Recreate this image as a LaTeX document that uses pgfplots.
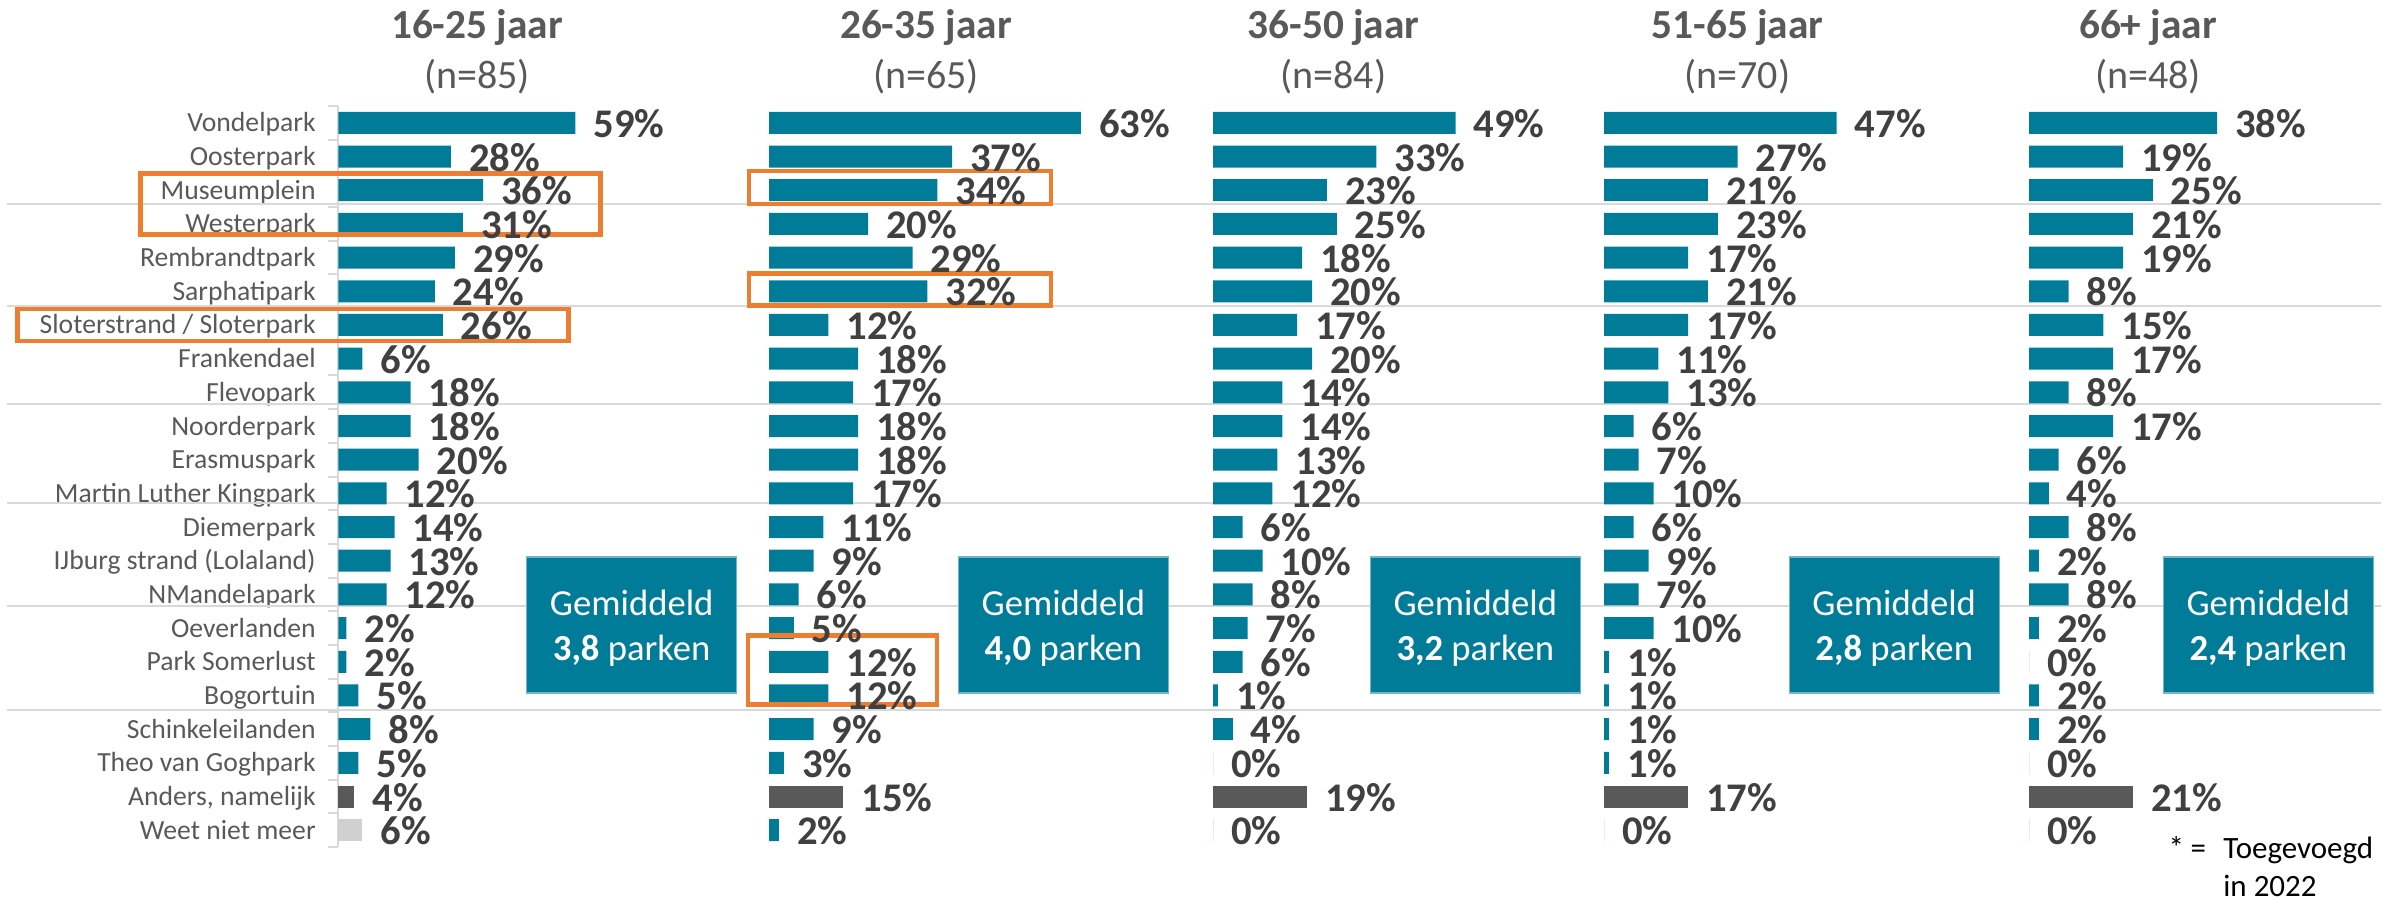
\documentclass[border=0pt]{standalone}
\usepackage{fontspec}
\setmainfont{Carlito}
\usepackage{pgfplots}
\pgfplotsset{compat=1.18}
\definecolor{barteal}{HTML}{007C98}
\definecolor{bardark}{HTML}{595959}
\definecolor{barlight}{HTML}{D0D0D0}
\definecolor{titlegray}{HTML}{595959}
\definecolor{pctgray}{HTML}{404040}
\definecolor{labgray}{HTML}{595959}
\definecolor{sepgray}{HTML}{D9D9D9}
\definecolor{boxorange}{HTML}{ED7D31}
\pgfplotsset{
  panel/.style={
    scale only axis, height=222.3pt, y dir=reverse, ymin=0.5, ymax=22.5, xmin=0, xmax=65,
    xbar, bar shift=0pt, bar width=0.653, clip=false, anchor=north west,
    point meta=x,
    nodes near coords={\pgfmathprintnumber[assume math mode=true]{\pgfplotspointmeta}\%},
    nodes near coords align={horizontal},
    every node near coord/.append style={anchor=base west, inner sep=0pt, xshift=5.25pt, yshift=-4.35pt,
      font=\bfseries\fontsize{12.2}{14}\selectfont, text=pctgray},
  },
  panelwide/.style={panel, width=96.525pt, hide axis},
}
\begin{document}
\begin{tikzpicture}
\useasboundingbox (0,0) rectangle ({2400*0.3pt},{-899*0.3pt});
% ---------- Panel 1: 16-25 jaar ----------
\begin{axis}[panel, width=78.39pt, at={({338.3*0.3pt},{-106*0.3pt})},
  axis x line=none, axis y line*=left,
  y axis line style={draw=sepgray, line width=0.6pt},
  ytick={1,...,22}, major tick length=0pt,
  yticklabels={Vondelpark,Oosterpark,Museumplein,Westerpark,Rembrandtpark,Sarphatipark,
    Sloterstrand / Sloterpark,Frankendael,Flevopark,Noorderpark,Erasmuspark,Martin Luther Kingpark,
    Diemerpark,IJburg strand (Lolaland),NMandelapark,Oeverlanden,Park Somerlust,Bogortuin,
    Schinkeleilanden,Theo van Goghpark,{Anders, namelijk},Weet niet meer},
  yticklabel style={anchor=base east, inner sep=0pt, xshift=-6.6pt, yshift=-2.7pt,
    font=\fontsize{8.3}{10}\selectfont, text=labgray},
  extra y ticks={0.5,1.5,...,22.5}, extra y tick labels={},
  extra y tick style={major tick length=3pt, tick align=outside, tick style={draw=sepgray, line width=0.6pt}},
]
\pgfplotsinvokeforeach{3.41,6.44,9.35,12.29,15.35,18.43}{
  \draw[sepgray, line width=0.7pt] (axis cs:-82.4,#1) -- (axis cs:508.1,#1);
}
\addplot[fill=barteal, draw=none] coordinates {(59,1) (28,2) (36,3) (31,4) (29,5) (24,6) (26,7) (6,8) (18,9) (18,10) (20,11) (12,12) (14,13) (13,14) (12,15) (2,16) (2,17) (5,18) (8,19) (5,20)};
\addplot[fill=bardark, draw=none] coordinates {(4,21)};
\addplot[fill=barlight, draw=none] coordinates {(6,22)};
\draw[boxorange, line width=1.4pt] (axis cs:-49.15,2.504) rectangle (axis cs:65.2,4.31);
\draw[boxorange, line width=1.4pt] (axis cs:-79.8,6.527) rectangle (axis cs:57.2,7.477);
\end{axis}
% ---------- Panel 2: 26-35 jaar ----------
\begin{axis}[panelwide, at={({769*0.3pt},{-106*0.3pt})}]
\addplot[fill=barteal, draw=none] coordinates {(63,1) (37,2) (34,3) (20,4) (29,5) (32,6) (12,7) (18,8) (17,9) (18,10) (18,11) (17,12) (11,13) (9,14) (6,15) (5,16) (12,17) (12,18) (9,19) (3,20) (2,22)};
\addplot[fill=bardark, draw=none] coordinates {(15,21)};
\draw[boxorange, line width=1.4pt] (axis cs:-4.04,2.43) rectangle (axis cs:56.97,3.41);
\draw[boxorange, line width=1.4pt] (axis cs:-4.04,5.47) rectangle (axis cs:56.97,6.42);
\draw[boxorange, line width=1.4pt] (axis cs:-4.24,16.22) rectangle (axis cs:33.94,18.27);
\end{axis}
% ---------- Panel 3: 36-50 jaar ----------
\begin{axis}[panelwide, at={({1213*0.3pt},{-106*0.3pt})}]
\addplot[fill=barteal, draw=none] coordinates {(49,1) (33,2) (23,3) (25,4) (18,5) (20,6) (17,7) (20,8) (14,9) (14,10) (13,11) (12,12) (6,13) (10,14) (8,15) (7,16) (6,17) (1,18) (4,19) (0,20) (0,22)};
\addplot[fill=bardark, draw=none] coordinates {(19,21)};
\end{axis}
% ---------- Panel 4: 51-65 jaar ----------
\begin{axis}[panelwide, at={({1604*0.3pt},{-106*0.3pt})}]
\addplot[fill=barteal, draw=none] coordinates {(47,1) (27,2) (21,3) (23,4) (17,5) (21,6) (17,7) (11,8) (13,9) (6,10) (7,11) (10,12) (6,13) (9,14) (7,15) (10,16) (1,17) (1,18) (1,19) (1,20) (0,22)};
\addplot[fill=bardark, draw=none] coordinates {(17,21)};
\end{axis}
% ---------- Panel 5: 66+ jaar ----------
\begin{axis}[panelwide, at={({2029*0.3pt},{-106*0.3pt})}]
\addplot[fill=barteal, draw=none] coordinates {(38,1) (19,2) (25,3) (21,4) (19,5) (8,6) (15,7) (17,8) (8,9) (17,10) (6,11) (4,12) (8,13) (2,14) (8,15) (2,16) (0,17) (2,18) (2,19) (0,20) (0,22)};
\addplot[fill=bardark, draw=none] coordinates {(21,21)};
\end{axis}
% ---------- Titles ----------
\tikzset{ttl/.style={anchor=base, inner sep=0pt, text=titlegray, font=\bfseries\fontsize{12.4}{15}\selectfont},
         sub/.style={anchor=base, inner sep=0pt, text=titlegray, font=\fontsize{12}{15}\selectfont}}
\node[ttl] at ({477*0.3pt},{-38*0.3pt}) {16-25 jaar};
\node[sub] at ({477*0.3pt},{-88*0.3pt}) {(n=85)};
\node[ttl] at ({926*0.3pt},{-38*0.3pt}) {26-35 jaar};
\node[sub] at ({926*0.3pt},{-88*0.3pt}) {(n=65)};
\node[ttl] at ({1333.5*0.3pt},{-38*0.3pt}) {36-50 jaar};
\node[sub] at ({1333.5*0.3pt},{-88*0.3pt}) {(n=84)};
\node[ttl] at ({1737.5*0.3pt},{-38*0.3pt}) {51-65 jaar};
\node[sub] at ({1737.5*0.3pt},{-88*0.3pt}) {(n=70)};
\node[ttl] at ({2148*0.3pt},{-38*0.3pt}) {66+ jaar};
\node[sub] at ({2148*0.3pt},{-88*0.3pt}) {(n=48)};
% ---------- Gemiddeld boxes ----------
\tikzset{gbox/.style={fill=barteal, draw=barteal!55!white, line width=0.4pt, inner sep=0pt,
           minimum height={136*0.3pt}, minimum width={210*0.3pt}, anchor=center},
         gtxt/.style={anchor=base, inner sep=0pt, text=white, font=\fontsize{11}{13}\selectfont}}
\node[gbox] at ({631.7*0.3pt},{-625*0.3pt}) {};
\node[gtxt] at ({631.7*0.3pt},{-615*0.3pt}) {Gemiddeld};
\node[gtxt] at ({631.7*0.3pt},{-660*0.3pt}) {\textbf{3,8} parken};
\node[gbox] at ({1063.4*0.3pt},{-625*0.3pt}) {};
\node[gtxt] at ({1063.4*0.3pt},{-615*0.3pt}) {Gemiddeld};
\node[gtxt] at ({1063.4*0.3pt},{-660*0.3pt}) {\textbf{4,0} parken};
\node[gbox] at ({1475.3*0.3pt},{-625*0.3pt}) {};
\node[gtxt] at ({1475.3*0.3pt},{-615*0.3pt}) {Gemiddeld};
\node[gtxt] at ({1475.3*0.3pt},{-660*0.3pt}) {\textbf{3,2} parken};
\node[gbox] at ({1894.2*0.3pt},{-625*0.3pt}) {};
\node[gtxt] at ({1894.2*0.3pt},{-615*0.3pt}) {Gemiddeld};
\node[gtxt] at ({1894.2*0.3pt},{-660*0.3pt}) {\textbf{2,8} parken};
\node[gbox] at ({2268.3*0.3pt},{-625*0.3pt}) {};
\node[gtxt] at ({2268.3*0.3pt},{-615*0.3pt}) {Gemiddeld};
\node[gtxt] at ({2268.3*0.3pt},{-660*0.3pt}) {\textbf{2,4} parken};
% ---------- Footnote ----------
\tikzset{fn/.style={anchor=base west, inner sep=0pt, text=black, font=\fontsize{9.3}{11}\selectfont}}
\node[fn] at ({2168*0.3pt},{-858*0.3pt}) {*};
\node[fn] at ({2190*0.3pt},{-858*0.3pt}) {=};
\node[fn] at ({2222.7*0.3pt},{-858*0.3pt}) {Toegevoegd};
\node[fn] at ({2222.7*0.3pt},{-896*0.3pt}) {in 2022};
\end{tikzpicture}
\end{document}
